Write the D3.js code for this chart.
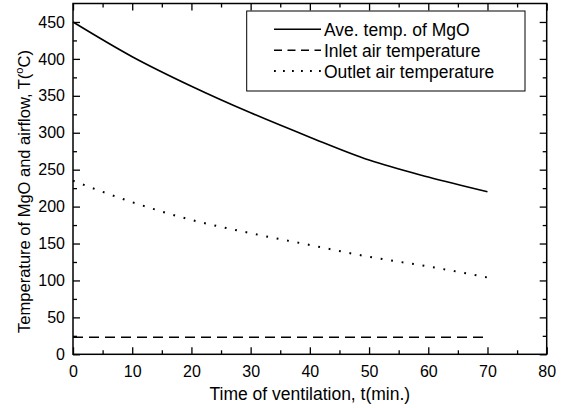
<!DOCTYPE html>
<html>
<head>
<meta charset="utf-8">
<script src="https://cdn.jsdelivr.net/npm/d3@7"></script>
<style>
body { margin: 0; background: #fff; }
svg { font-family: "Liberation Sans", Arial, sans-serif; }
</style>
</head>
<body>
<svg id="viz" width="563" height="408"></svg>
<script>
var times = [0, 10, 20, 30, 40, 50, 60, 70]
var mgoTemp = [450, 403, 363, 327, 294, 263, 240, 220]
var inletTemp = [23, 23, 23, 23, 23, 23, 23, 23]
var outletTemp = [235, 206, 182, 164, 148, 132, 119, 104]

var xTicks = [0, 10, 20, 30, 40, 50, 60, 70, 80]
var yTicks = [0, 50, 100, 150, 200, 250, 300, 350, 400, 450]

var seriesNames = ["Ave. temp. of MgO", "Inlet air temperature", "Outlet air temperature"]
var seriesValues = [mgoTemp, inletTemp, outletTemp]
var dashes = [null, "10,6", "1.8,8.8"]

let plotLeft = 73, plotRight = 546.7, plotTop = 3.5, plotBottom = 354.3
let viz = d3.select("#viz")

let x = d3.scaleLinear().domain([0, 80]).range([plotLeft, plotRight])
let y = d3.scaleLinear().domain([0, 475]).range([plotBottom, plotTop])

let minorX = d3.range(5, 80, 10)
let minorY = d3.range(25, 475, 50)

// bottom/left with labels, top/right just mirrored ticks, all pointing inward
viz.append("g").attr("transform", `translate(0,${plotBottom})`)
    .call(d3.axisBottom(x).tickValues(xTicks).tickSize(-7).tickPadding(11))
viz.append("g").attr("transform", `translate(0,${plotBottom})`)
    .call(d3.axisBottom(x).tickValues(minorX).tickSize(-4).tickFormat(""))
viz.append("g").attr("transform", `translate(0,${plotTop})`)
    .call(d3.axisTop(x).tickValues(xTicks).tickSize(-7).tickFormat(""))
viz.append("g").attr("transform", `translate(0,${plotTop})`)
    .call(d3.axisTop(x).tickValues(minorX).tickSize(-4).tickFormat(""))

viz.append("g").attr("transform", `translate(${plotLeft},0)`)
    .call(d3.axisLeft(y).tickValues(yTicks).tickSize(-7).tickPadding(8))
viz.append("g").attr("transform", `translate(${plotLeft},0)`)
    .call(d3.axisLeft(y).tickValues(minorY).tickSize(-4).tickFormat(""))
viz.append("g").attr("transform", `translate(${plotRight},0)`)
    .call(d3.axisRight(y).tickValues(yTicks).tickSize(-7).tickFormat(""))
viz.append("g").attr("transform", `translate(${plotRight},0)`)
    .call(d3.axisRight(y).tickValues(minorY).tickSize(-4).tickFormat(""))

viz.selectAll(".domain").remove()
viz.selectAll(".tick line").attr("stroke", "#000").attr("stroke-width", 1.3)
viz.selectAll(".tick text").attr("font-size", 16).attr("fill", "#000")
    .attr("font-family", "Liberation Sans, Arial, sans-serif")

viz.append("rect")
    .attr("x", plotLeft).attr("y", plotTop)
    .attr("width", plotRight - plotLeft).attr("height", plotBottom - plotTop)
    .attr("fill", "none").attr("stroke", "#000").attr("stroke-width", 1.5)

// curves
let line = d3.line()
    .x((d, i) => x(times[i]))
    .y(d => y(d))
    .curve(d3.curveMonotoneX)

viz.append("g").selectAll("path")
    .data(seriesValues)
    .enter().append("path")
    .attr("d", d => line(d))
    .attr("fill", "none")
    .attr("stroke", "#000")
    .attr("stroke-width", (d, i) => i == 2 ? 2 : 1.6)
    .attr("stroke-dasharray", (d, i) => dashes[i])

// legend
let legend = viz.append("g")
legend.append("rect")
    .attr("x", 246.7).attr("y", 11)
    .attr("width", 278.3).attr("height", 80)
    .attr("fill", "#fff").attr("stroke", "#000").attr("stroke-width", 1)

let rows = [29.3, 50.3, 71]
let legendDash = [null, "8,5.5", "1.8,7.2"]
seriesNames.forEach(function (name, i) {
    legend.append("line")
        .attr("x1", 274).attr("x2", 321)
        .attr("y1", rows[i]).attr("y2", rows[i])
        .attr("stroke", "#000")
        .attr("stroke-width", i == 2 ? 2 : 1.6)
        .attr("stroke-dasharray", legendDash[i])
    legend.append("text")
        .attr("x", 324).attr("y", rows[i] + 6.5)
        .attr("font-size", 17.5)
        .text(name)
})

// axis titles
viz.append("text")
    .attr("x", (plotLeft + plotRight) / 2).attr("y", 400)
    .attr("text-anchor", "middle").attr("font-size", 17.5)
    .text("Time of ventilation, t(min.)")

let yt = viz.append("text")
    .attr("transform", "translate(30,191.5) rotate(-90)")
    .attr("text-anchor", "middle").attr("font-size", 16.5)
yt.append("tspan").text("Temperature of MgO and airflow, T(")
yt.append("tspan").attr("font-size", 11).attr("dy", -7).text("o")
yt.append("tspan").attr("dy", 7).text("C)")
</script>
</body>
</html>
